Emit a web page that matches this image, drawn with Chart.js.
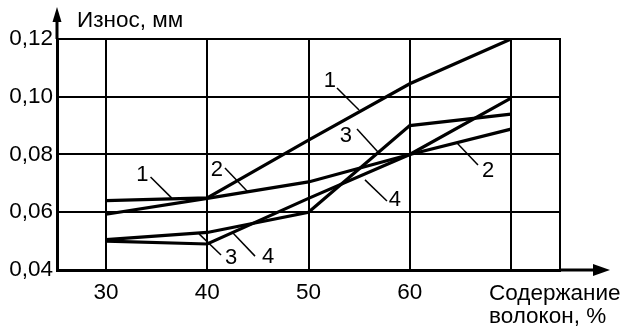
<!DOCTYPE html>
<html>
<head>
<meta charset="utf-8">
<script src="https://cdn.jsdelivr.net/npm/chart.js@4.4.1/dist/chart.umd.min.js"></script>
<style>
  html, body { margin: 0; padding: 0; background: #fff; }
  #wrap { width: 623px; height: 332px; }
</style>
</head>
<body>
<div id="wrap"><canvas id="chart" width="623" height="332"></canvas></div>
<script>
// fibre content, %
const fibre = [30, 40, 50, 60, 70];
const xTicks = [30, 40, 50, 60, 70];
const yTicks = [0.04, 0.06, 0.08, 0.10, 0.12];

// wear, mm
const curve1 = [0.064, 0.065, 0.085, 0.1045, 0.12];
const curve2 = [0.0593, 0.0648, 0.0705, 0.080, 0.0888];
const curve3 = [0.0505, 0.053, 0.060, 0.090, 0.094];
const curve4 = [0.050, 0.049, 0.0648, 0.080, 0.0995];

// curve numbers with leader lines (data coords)
const marks = [
  { text: '1', at: [33.6, 0.0732], from: [34.4, 0.0722], to: [36.5, 0.0649] },
  { text: '2', at: [40.96, 0.0750], from: [41.75, 0.0753], to: [44.02, 0.0670] },
  { text: '3', at: [42.35, 0.0445], from: [39.19, 0.0525], to: [41.36, 0.0452] },
  { text: '4', at: [46.0, 0.0448], from: [42.54, 0.0528], to: [44.72, 0.0448] },
  { text: '1', at: [52.12, 0.1058], from: [52.81, 0.1030], to: [54.99, 0.0954] },
  { text: '3', at: [53.70, 0.0868], from: [54.79, 0.0888], to: [56.86, 0.0809] },
  { text: '2', at: [67.73, 0.0746], from: [64.67, 0.0840], to: [66.74, 0.0764] },
  { text: '4', at: [58.54, 0.0646], from: [55.58, 0.0712], to: [57.75, 0.0639] }
];

const FONT = '"Liberation Sans", Arial, sans-serif';

function toPoints(ys) {
  return fibre.map((x, i) => ({ x: x, y: ys[i] }));
}

function lineSet(ys) {
  return {
    data: toPoints(ys),
    borderColor: '#000',
    borderWidth: 3.2,
    pointRadius: 0,
    tension: 0,
    fill: false
  };
}

const decor = {
  id: 'decor',
  afterDraw(chart) {
    const ctx = chart.ctx;
    const a = chart.chartArea;
    const xs = chart.scales.x, ys = chart.scales.y;
    ctx.save();
    ctx.strokeStyle = '#000';
    ctx.fillStyle = '#000';

    // right frame
    ctx.lineWidth = 2;
    ctx.beginPath();
    ctx.moveTo(a.right, a.top - 1);
    ctx.lineTo(a.right, a.bottom);
    ctx.stroke();

    // axis arrows
    ctx.lineWidth = 3;
    ctx.beginPath();
    ctx.moveTo(a.left, a.top);
    ctx.lineTo(a.left, 20);
    ctx.moveTo(a.right, a.bottom);
    ctx.lineTo(596, a.bottom);
    ctx.stroke();
    ctx.beginPath();
    ctx.moveTo(a.left, 7);
    ctx.lineTo(a.left - 4.5, 22);
    ctx.lineTo(a.left + 4.5, 22);
    ctx.closePath();
    ctx.fill();
    ctx.beginPath();
    ctx.moveTo(610, a.bottom);
    ctx.lineTo(593, a.bottom - 6);
    ctx.lineTo(593, a.bottom + 6);
    ctx.closePath();
    ctx.fill();

    // axis titles
    ctx.font = '22.5px ' + FONT;
    ctx.textAlign = 'left';
    ctx.textBaseline = 'alphabetic';
    ctx.fillText('Износ, мм', 77, 27);
    ctx.fillText('Содержание', 489, 300);
    ctx.fillText('волокон, %', 489, 323);

    // curve numbers
    ctx.font = '22px ' + FONT;
    ctx.lineWidth = 1.5;
    ctx.textAlign = 'center';
    ctx.textBaseline = 'middle';
    marks.forEach(m => {
      ctx.beginPath();
      ctx.moveTo(xs.getPixelForValue(m.from[0]), ys.getPixelForValue(m.from[1]));
      ctx.lineTo(xs.getPixelForValue(m.to[0]), ys.getPixelForValue(m.to[1]));
      ctx.stroke();
      ctx.fillText(m.text, xs.getPixelForValue(m.at[0]), ys.getPixelForValue(m.at[1]) + 1);
    });
    ctx.restore();
  }
};

new Chart(document.getElementById('chart'), {
  type: 'line',
  data: {
    datasets: [lineSet(curve1), lineSet(curve2), lineSet(curve3), lineSet(curve4)]
  },
  options: {
    responsive: false,
    animation: false,
    devicePixelRatio: 1,
    layout: { padding: { top: 39, right: 63, left: 0, bottom: 0 } },
    plugins: { legend: { display: false }, tooltip: { enabled: false } },
    scales: {
      x: {
        type: 'linear',
        min: 25.16,
        max: 74.84,
        afterBuildTicks: s => { s.ticks = xTicks.map(v => ({ value: v })); },
        afterFit: s => { s.height = 62; },
        grid: { color: '#000', lineWidth: 2, drawTicks: false },
        border: { color: '#000', width: 3 },
        ticks: {
          color: '#000',
          font: { family: FONT, size: 22.5 },
          padding: 9,
          maxRotation: 0,
          callback: v => (v === 70 ? '' : String(v))
        }
      },
      y: {
        min: 0.04,
        max: 0.12,
        afterBuildTicks: s => { s.ticks = yTicks.map(v => ({ value: v })); },
        afterFit: s => { s.width = 57; },
        grid: { color: '#000', lineWidth: 2, drawTicks: false },
        border: { color: '#000', width: 3 },
        ticks: {
          color: '#000',
          font: { family: FONT, size: 22.5 },
          padding: 4,
          callback: v => v.toFixed(2).replace('.', ',')
        }
      }
    }
  },
  plugins: [decor]
});
</script>
</body>
</html>
